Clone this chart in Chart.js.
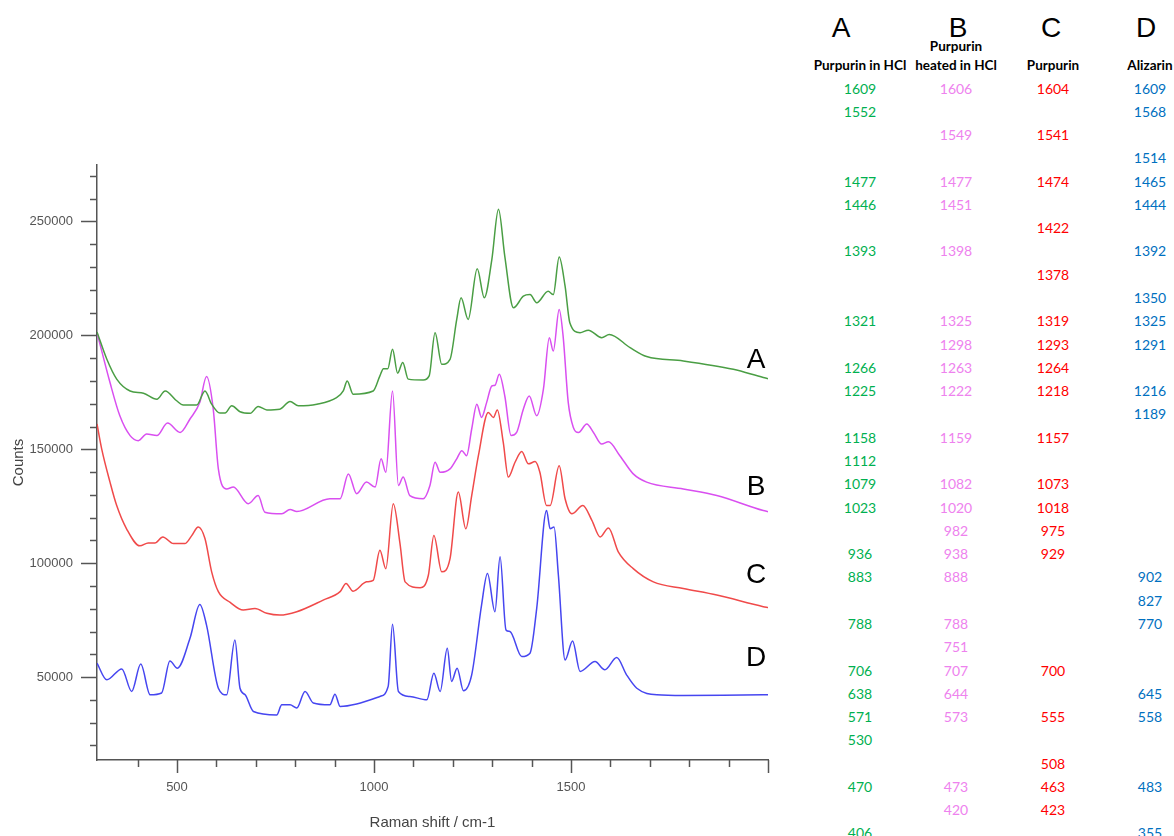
<!DOCTYPE html>
<html>
<head>
<meta charset="utf-8">
<script src="https://cdn.jsdelivr.net/npm/chart.js@4"></script>
<style>
  html, body { margin: 0; padding: 0; background: #fff; }
  body { width: 1174px; height: 836px; overflow: hidden; position: relative; }
  #chart { position: absolute; left: 0; top: 0; }
  .t { position: absolute; transform: translate(-50%, -50%); white-space: nowrap; line-height: 1; }
  .big { font-family: "Liberation Sans", Arial, sans-serif; font-size: 28px; color: #000; }
  .hd { font-family: Lato, sans-serif; font-weight: bold; font-size: 13.5px; color: #000; }
  .num { font-family: Lato, sans-serif; font-size: 14px; }
</style>
</head>
<body>
<canvas id="chart" width="800" height="836"></canvas>
<script>
// spectra (Raman shift cm-1 / counts)
const shiftA = [297,322,347,381,415,449,470,499,516,550,571,588,609,622,639,660,686,706,728,761,787,808,855,905,922,932,947,998,1015,1024,1035,1047,1060,1073,1087,1125,1140,1155,1172,1193,1210,1221,1239,1262,1280,1299,1316,1332,1354,1379,1396,1413,1442,1455,1470,1485,1497,1523,1544,1578,1597,1650,1692,1785,1912,1988,2000];
const countsA = [201500,189500,180800,175600,174600,172000,175600,171300,169400,169400,175600,169800,165900,165900,169100,166500,165800,168800,167300,167600,171000,169100,169800,172700,175600,180000,174200,175600,182200,185400,185400,193900,183400,188100,180800,180400,182200,201200,187300,189500,207000,216500,207000,229200,216500,233200,255400,234700,212100,217200,217900,214300,219400,217900,234400,221600,205600,201200,202300,199000,200400,194600,190700,188800,185100,181500,181000];

const shiftB = [297,330,355,381,402,423,449,476,508,533,558,575,592,605,626,643,681,706,723,766,787,804,888,914,935,956,981,1003,1018,1030,1047,1062,1074,1091,1125,1142,1155,1168,1193,1210,1223,1235,1248,1261,1273,1286,1299,1307,1318,1332,1348,1362,1379,1394,1413,1430,1445,1455,1470,1480,1493,1506,1519,1540,1557,1578,1595,1624,1658,1692,1785,1870,1988,2000];
const countsB = [201300,179300,164700,156000,153800,156700,156000,161500,157400,163300,170600,181900,167600,141400,132600,133400,126100,129700,122400,121700,123600,122700,128300,128300,139200,130500,135600,133400,145800,139900,175600,134100,137800,129700,128300,134100,144300,139900,141400,145800,149400,147200,158900,169800,164000,170600,177800,178100,182900,173400,156000,157400,167600,173400,164700,176400,199000,193100,211400,199700,170600,159600,157400,161100,157400,152300,153300,147200,139200,135600,132600,129700,123100,122600];

const shiftC = [297,309,330,347,372,406,427,444,464,491,520,537,554,571,588,605,635,668,698,728,761,804,871,914,929,947,981,998,1015,1030,1049,1066,1079,1117,1138,1152,1172,1193,1214,1233,1248,1265,1290,1303,1313,1328,1341,1358,1375,1392,1409,1421,1438,1447,1470,1485,1502,1530,1553,1574,1595,1620,1658,1709,1785,1870,1988,2000];
const countsC = [161100,150100,135600,125300,115100,107600,108900,108900,111500,108600,108600,112000,115900,110800,96200,87500,82800,79400,80100,78000,77200,78700,83800,87500,91100,87700,91800,92500,105700,97600,126100,108600,91800,89200,94700,112200,96200,102000,131200,115100,129700,147200,166200,164000,167300,153100,137800,144300,149000,143600,144600,139900,125300,125300,142800,128300,121700,125300,118800,111500,115500,105000,97600,91800,88900,86000,80900,80500];

const shiftD = [297,322,360,385,408,432,461,482,501,533,558,575,605,626,647,660,673,694,753,766,787,804,825,846,888,901,914,956,1015,1036,1047,1062,1091,1134,1152,1168,1186,1197,1211,1227,1248,1273,1288,1307,1320,1335,1345,1375,1396,1413,1438,1447,1457,1468,1485,1504,1523,1561,1586,1616,1641,1667,1718,1785,1988,2000];
const countsD = [56100,48800,53600,43700,55700,42200,43000,57100,53900,67000,81900,72800,45100,42200,66300,45100,42200,34900,33400,37800,37800,36400,43700,38600,37800,42500,37100,38200,41500,45900,73200,43700,41500,40000,51700,43700,62700,48100,53900,44000,51000,81600,95500,78700,102800,70700,70000,59000,60500,80200,123100,115100,115900,94700,57500,65800,52500,56800,53200,58600,51000,45100,42200,41900,42200,42200];

// axis ticks: a mark every 100 cm-1 / 10000 counts, labels on the big ones
const xTicks = [400,500,600,700,800,900,1000,1100,1200,1300,1400,1500,1600,1700,1800,1900,2000];
const xLabels = [500, 1000, 1500];
const yTicks = [20000,30000,40000,50000,60000,70000,80000,90000,100000,110000,120000,130000,140000,150000,160000,170000,180000,190000,200000,210000,220000,230000,240000,250000,260000,270000];
const yLabels = [50000, 100000, 150000, 200000, 250000];

// peak table on the right
const columnLetters = ['A', 'B', 'C', 'D'];
const columnNames = [['Purpurin in HCl'], ['Purpurin', 'heated in HCl'], ['Purpurin'], ['Alizarin']];
const peakA = [1609,1552,null,null,1477,1446,null,1393,null,null,1321,null,1266,1225,null,1158,1112,1079,1023,null,936,883,null,788,null,706,638,571,530,null,470,null,406];
const peakB = [1606,null,1549,null,1477,1451,null,1398,null,null,1325,1298,1263,1222,null,1159,null,1082,1020,982,938,888,null,788,751,707,644,573,null,null,473,420,null];
const peakC = [1604,null,1541,null,1474,null,1422,null,1378,null,1319,1293,1264,1218,null,1157,null,1073,1018,975,929,null,null,null,null,700,null,555,null,508,463,423,null];
const peakD = [1609,1568,null,1514,1465,1444,null,1392,null,1350,1325,1291,null,1216,1189,null,null,null,null,null,null,902,827,770,null,null,645,558,null,null,483,null,355];

const lineColors = ['#4a9e44', '#d94ff0', '#f04a4a', '#4646f0'];
const tableColors = ['#00b050', '#ee82ee', '#ff0000', '#0070c0'];

function makeSet(xs, ys, color) {
  return {
    data: xs.map((x, i) => ({ x: x, y: ys[i] })),
    borderColor: color,
    borderWidth: 1.5,
    pointRadius: 0,
    cubicInterpolationMode: 'monotone',
    fill: false
  };
}

// tick marks: long ones on 500 / 50000 steps, short ones in between
const tickMarks = {
  id: 'tickMarks',
  afterDraw(chart) {
    const { ctx, scales: { x, y } } = chart;
    ctx.save();
    ctx.strokeStyle = '#555';
    ctx.lineWidth = 1.5;
    x.ticks.forEach(t => {
      const px = Math.round(x.getPixelForValue(t.value)) + 0.5;
      const len = t.value % 500 === 0 ? 13 : 7;
      ctx.beginPath();
      ctx.moveTo(px, x.top);
      ctx.lineTo(px, x.top + len);
      ctx.stroke();
    });
    y.ticks.forEach(t => {
      const py = Math.round(y.getPixelForValue(t.value)) + 0.5;
      const len = t.value % 50000 === 0 ? 16 : 7;
      ctx.beginPath();
      ctx.moveTo(y.right, py);
      ctx.lineTo(y.right - len, py);
      ctx.stroke();
    });
    ctx.restore();
  }
};

const axisFont = { family: 'Liberation Sans', size: 13 };

new Chart(document.getElementById('chart'), {
  type: 'line',
  data: {
    datasets: [
      makeSet(shiftA, countsA, lineColors[0]),
      makeSet(shiftB, countsB, lineColors[1]),
      makeSet(shiftC, countsC, lineColors[2]),
      makeSet(shiftD, countsD, lineColors[3])
    ]
  },
  options: {
    responsive: false,
    animation: false,
    devicePixelRatio: 1,
    layout: { padding: { top: 165, right: 32, left: 0, bottom: 0 } },
    plugins: { legend: { display: false }, tooltip: { enabled: false } },
    scales: {
      x: {
        type: 'linear',
        min: 297,
        max: 2000,
        afterBuildTicks: s => { s.ticks = xTicks.map(v => ({ value: v })); },
        afterFit: s => { s.height = 76; },
        border: { color: '#555', width: 1.5 },
        grid: { display: true, drawOnChartArea: false, drawTicks: false },
        ticks: {
          autoSkip: false,
          maxRotation: 0,
          padding: 20,
          color: '#555',
          font: axisFont,
          callback: v => xLabels.includes(v) ? String(v) : ''
        },
        title: {
          display: true,
          text: 'Raman shift / cm-1',
          color: '#444',
          font: { family: 'Liberation Sans', size: 15 },
          padding: { top: 0, bottom: 4 }
        }
      },
      y: {
        type: 'linear',
        min: 13600,
        max: 274800,
        afterBuildTicks: s => { s.ticks = yTicks.map(v => ({ value: v })); },
        afterFit: s => { s.width = 97; },
        border: { color: '#555', width: 1.5 },
        grid: { display: true, drawOnChartArea: false, drawTicks: false },
        ticks: {
          autoSkip: false,
          padding: 24,
          color: '#555',
          font: axisFont,
          callback: v => yLabels.includes(v) ? String(v) : ''
        },
        title: {
          display: true,
          text: 'Counts',
          color: '#444',
          font: { family: 'Liberation Sans', size: 15 },
          padding: { top: 10, bottom: 0 }
        }
      }
    }
  },
  plugins: [tickMarks]
});

// text on the page: curve letters and the table
function addText(txt, cls, x, y, color) {
  const d = document.createElement('div');
  d.className = 't ' + cls;
  d.textContent = txt;
  d.style.left = x + 'px';
  d.style.top = y + 'px';
  if (color) d.style.color = color;
  document.body.appendChild(d);
}

const curveLabelX = 756;
const curveLabelY = [359, 486, 574, 657];
columnLetters.forEach((c, i) => addText(c, 'big', curveLabelX, curveLabelY[i]));

const headerX = [841, 958, 1051, 1146];
const colX = [860, 956, 1053, 1150];
columnLetters.forEach((c, i) => addText(c, 'big', headerX[i], 28));
columnNames.forEach((lines, i) => {
  if (lines.length === 1) {
    addText(lines[0], 'hd', colX[i], 66);
  } else {
    addText(lines[0], 'hd', colX[i], 47);
    addText(lines[1], 'hd', colX[i], 66);
  }
});

[peakA, peakB, peakC, peakD].forEach((col, i) => {
  col.forEach((v, r) => {
    if (v !== null) addText(String(v), 'num', colX[i], 88.5 + r * 23.28, tableColors[i]);
  });
});
</script>
</body>
</html>
